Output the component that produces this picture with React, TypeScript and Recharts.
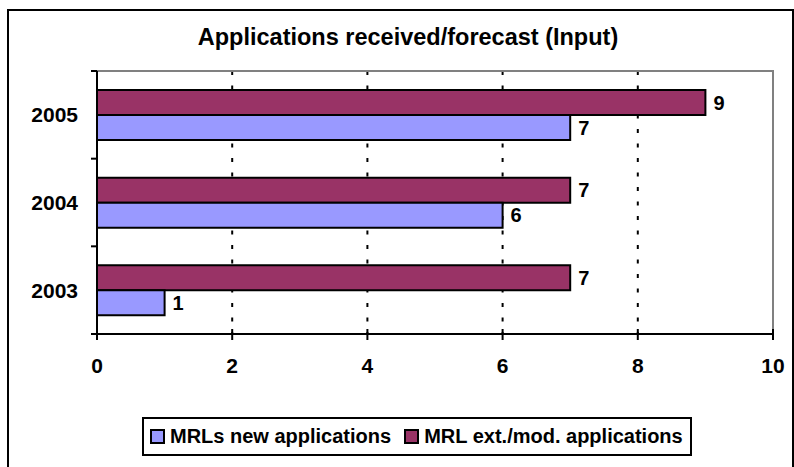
import { BarChart, Bar, XAxis, YAxis, CartesianGrid, ReferenceArea, LabelList } from "recharts";

const years = ["2005", "2004", "2003"];
const newApplications = [7, 6, 1];
const extModApplications = [9, 7, 7];
const xTicks = [0, 2, 4, 6, 8, 10];

const NEW_COLOR = "#9999FF";
const EXT_COLOR = "#993366";
const FONT = '"Liberation Sans", Arial, sans-serif';

const data = years.map((year, i) => ({
  year,
  newApps: newApplications[i],
  extApps: extModApplications[i],
}));

const YTick = (props: any) => {
  const { x, y, payload, index } = props;
  const half = payload?.offset || 44;
  const last = index === years.length - 1;
  return (
    <g>
      <line x1={x - 6} x2={x} y1={y - half} y2={y - half} stroke="#000" strokeWidth={2} />
      {last && <line x1={x - 6} x2={x} y1={y + half} y2={y + half} stroke="#000" strokeWidth={2} />}
      <text x={x - 19} y={y + 7.5} textAnchor="end" fontFamily={FONT} fontWeight="bold" fontSize={21} fill="#000">
        {payload.value}
      </text>
    </g>
  );
};

const XTick = (props: any) => {
  const { x, y, payload } = props;
  return (
    <g>
      <line x1={x} x2={x} y1={y - 5} y2={y + 6} stroke="#000" strokeWidth={2} />
      <text x={x} y={y + 39} textAnchor="middle" fontFamily={FONT} fontWeight="bold" fontSize={21} fill="#000">
        {payload.value}
      </text>
    </g>
  );
};

const Swatch = ({ color }: { color: string }) => (
  <span
    style={{
      display: "inline-block",
      width: 11,
      height: 11,
      background: color,
      border: "2px solid #000",
      marginRight: 5,
    }}
  />
);

export default function App() {
  return (
    <div
      style={{
        position: "fixed",
        left: 0,
        top: 0,
        width: 794,
        height: 467,
        background: "#fff",
        overflow: "hidden",
        fontFamily: FONT,
      }}
    >
      <div
        style={{
          position: "absolute",
          left: 7,
          top: 9,
          width: 787,
          height: 470,
          border: "2px solid #000",
          boxSizing: "border-box",
        }}
      />
      <div
        style={{
          position: "absolute",
          left: 0,
          width: 816,
          top: 26,
          textAlign: "center",
          fontSize: 23.5,
          lineHeight: "23.5px",
          fontWeight: "bold",
          color: "#000",
          whiteSpace: "nowrap",
        }}
      >
        Applications received/forecast (Input)
      </div>
      <div style={{ position: "absolute", left: 0, top: 0 }}>
        <BarChart
          width={794}
          height={467}
          data={data}
          layout="vertical"
          margin={{ top: 71, right: 21, left: 0, bottom: 93 }}
          barSize={25}
          barGap={0}
        >
          <ReferenceArea x1={0} x2={10} fill="none" stroke="#808080" strokeWidth={2} />
          <CartesianGrid horizontal={false} stroke="#000" strokeWidth={2} strokeDasharray="4 10.5" />
          <XAxis
            type="number"
            domain={[0, 10]}
            ticks={xTicks}
            height={40}
            tickSize={0}
            tickMargin={0}
            tickLine={false}
            axisLine={{ stroke: "#000", strokeWidth: 2 }}
            tick={<XTick />}
          />
          <YAxis
            type="category"
            dataKey="year"
            width={97}
            tickSize={0}
            tickMargin={0}
            tickLine={false}
            axisLine={{ stroke: "#000", strokeWidth: 2 }}
            tick={<YTick />}
          />
          <Bar dataKey="extApps" name="MRL ext./mod. applications" fill={EXT_COLOR} stroke="#000" strokeWidth={2} isAnimationActive={false}>
            <LabelList dataKey="extApps" position="right" offset={8} fill="#000" fontFamily={FONT} fontWeight="bold" fontSize={20} />
          </Bar>
          <Bar dataKey="newApps" name="MRLs new applications" fill={NEW_COLOR} stroke="#000" strokeWidth={2} isAnimationActive={false}>
            <LabelList dataKey="newApps" position="right" offset={8} fill="#000" fontFamily={FONT} fontWeight="bold" fontSize={20} />
          </Bar>
        </BarChart>
      </div>
      <div
        style={{
          position: "absolute",
          left: 142,
          top: 417,
          width: 550,
          height: 39,
          border: "2px solid #000",
          boxSizing: "border-box",
          display: "flex",
          alignItems: "center",
          paddingLeft: 6,
          fontSize: 20,
          fontWeight: "bold",
          color: "#000",
          whiteSpace: "nowrap",
        }}
      >
        <Swatch color={NEW_COLOR} />
        <span style={{ marginRight: 13 }}>MRLs new applications</span>
        <Swatch color={EXT_COLOR} />
        <span>MRL ext./mod. applications</span>
      </div>
    </div>
  );
}
